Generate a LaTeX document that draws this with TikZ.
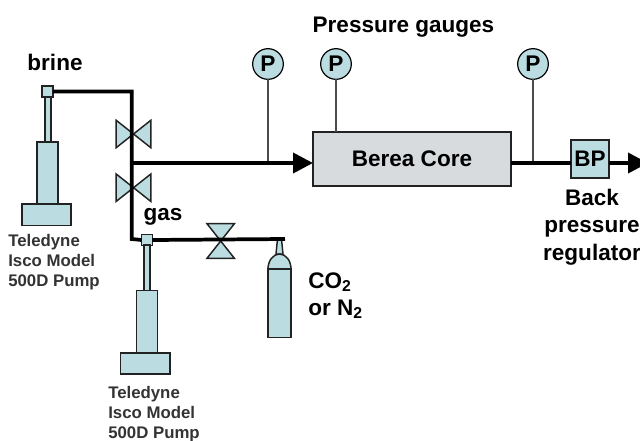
\documentclass[tikz,border=0pt]{standalone}
\usepackage{fontspec}
\usepackage{xcolor}
\setmainfont{Liberation Sans}
\usetikzlibrary{arrows.meta}
\definecolor{fluid}{HTML}{BBDDE2}
\definecolor{rock}{HTML}{D8DBDE}
\definecolor{edge}{HTML}{222222}
\tikzset{
  part/.style={draw=edge, line width=1.1pt, fill=fluid, inner sep=0pt, outer sep=0pt, rectangle},
  gauge/.style={draw=black, line width=0.9pt, fill=fluid, circle, inner sep=0pt, outer sep=0pt, minimum size=23pt, font=\fontsize{17}{18}\selectfont\bfseries},
  pipe/.style={line width=2.8pt, black},
  flow/.style={pipe, -{Triangle[length=15pt, width=15pt]}},
  tap/.style={line width=0.8pt, draw=black!70},
  big/.style={inner sep=0pt, font=\fontsize{16.9}{20.5}\selectfont\bfseries},
  small/.style={inner sep=0pt, align=left, text=black!80, font=\fontsize{12.6}{15}\selectfont\bfseries},
  valve/.pic={
    \draw [part] (-17.3,-13.7) -- (-17.3,13.7) -- (0,0) -- cycle;
    \draw [part] (17.3,-13.7) -- (17.3,13.7) -- (0,0) -- cycle;
  }
}
\begin{document}
\begin{tikzpicture}[x=0.75pt, y=-0.75pt]
  \clip (0,0) rectangle (640,440);
  \coordinate (corner) at (131.7,239);
  \coordinate (tee) at (131.7,163);
  \coordinate (neck) at (285,239);
  \coordinate (exit) at (648,163);

  \pic at (133.5,134) {valve};
  \pic at (133.5,187.7) {valve};
  \pic [rotate=90] at (220.7,241) {valve};

  \node [part, minimum width=8.2pt, minimum height=8.2pt] (brinetop) at (47.5,91.5) {};
  \node [part, minimum width=4.5pt, minimum height=33.8pt] (brinerod) at (48,119.5) {};
  \node [part, minimum width=15.7pt, minimum height=46.5pt] (brinebody) at (47.5,173) {};
  \node [part, minimum width=36.7pt, minimum height=16pt] (brinebase) at (46.5,214.8) {};

  \node [part, minimum width=8.2pt, minimum height=8pt] (gastop) at (147,240) {};
  \node [part, minimum width=4.5pt, minimum height=34pt] (gasrod) at (147,267.8) {};
  \node [part, minimum width=15.5pt, minimum height=46.8pt] (gasbody) at (147,321.8) {};
  \node [part, minimum width=37pt, minimum height=16pt] (gasbase) at (145.2,363.5) {};

  \draw [part] (276,254) -- (277.5,239) -- (281.5,239) -- (283,254) -- cycle;
  \draw [part] (268,269) arc [start angle=180, end angle=360, x radius=11.5, y radius=15] -- cycle;
  \node [part, minimum width=17.2pt, minimum height=51.5pt] (bottle) at (279.5,303.3) {};

  \node [part, fill=rock, minimum width=148.5pt, minimum height=40.5pt, font=\fontsize{16.9}{20}\selectfont\bfseries] (core) at (412,159) {Berea Core};
  \node [part, minimum width=28.5pt, minimum height=28.5pt, font=\fontsize{16.9}{20}\selectfont\bfseries] (bp) at (590,159) {BP};

  \node [gauge] (gaugeA) at (268,64) {P};
  \node [gauge] (gaugeB) at (336,64) {P};
  \node [gauge] (gaugeC) at (533,64) {P};

  \draw [tap] (gaugeA) -- (gaugeA |- tee);
  \draw [tap] (gaugeB) -- (gaugeB |- core.north);
  \draw [tap] (gaugeC) -- (gaugeC |- tee);

  \draw [pipe, line cap=butt] (brinetop.east) -| (corner) -- (gastop.west);
  \draw [pipe] (gastop.east) -- (neck);
  \draw [flow] (tee) -- (tee -| core.west);
  \draw [pipe] (tee -| core.east) -- (tee -| bp.west);
  \draw [flow] (tee -| bp.east) -- (exit);

  \node [big, anchor=base] (gaugetext) at (403.5,32) {Pressure gauges};
  \node [big, anchor=base] (brinetext) at (55,70.7) {brine};
  \node [big, anchor=base] (gastext) at (163,220) {gas};
  \node [big, anchor=north west, align=left] (bottletext) at (308,272) {CO\textsubscript{2}\\or N\textsubscript{2}};
  \node [big, anchor=north, align=center] (bptext) at (592,189) {Back\\pressure\\regulator};
  \node [small, anchor=north west] (brinelabel) at (8,234) {Teledyne\\Isco Model\\500D Pump};
  \node [small, anchor=north west] (gaslabel) at (108,386) {Teledyne\\Isco Model\\500D Pump};
\end{tikzpicture}
\end{document}
